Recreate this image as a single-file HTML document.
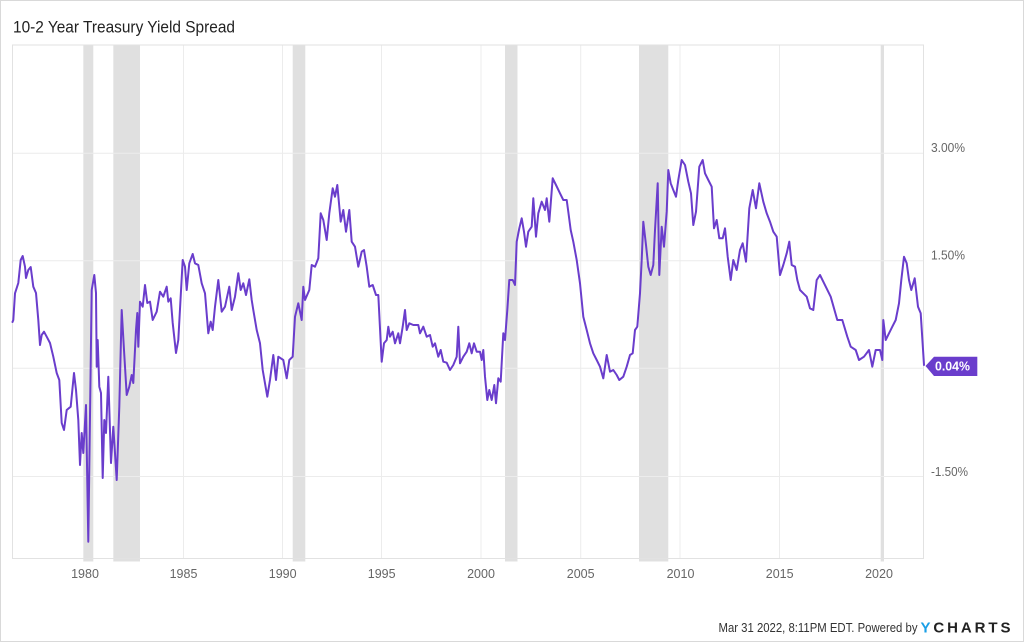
<!DOCTYPE html>
<html>
<head>
<meta charset="utf-8">
<style>
  html,body{margin:0;padding:0;background:#fff;}
  svg{display:block;}
  text{font-family:"Liberation Sans",Arial,sans-serif;}
</style>
</head>
<body>
<svg width="1024" height="642" viewBox="0 0 1024 642" xmlns="http://www.w3.org/2000/svg">
  <rect x="0.5" y="0.5" width="1023" height="641" fill="#fff" stroke="#d9d9d9" stroke-width="1"/>
  <text x="13" y="32.5" font-size="17" fill="#222" textLength="222" lengthAdjust="spacingAndGlyphs">10-2 Year Treasury Yield Spread</text>

  <!-- recession bands -->
  <g fill="#e0e0e0">
    <rect x="83.3" y="45" width="10" height="516.5"/>
    <rect x="113.3" y="45" width="26.7" height="516.5"/>
    <rect x="292.7" y="45" width="12.6" height="516.5"/>
    <rect x="505" y="45" width="12.5" height="516.5"/>
    <rect x="639" y="45" width="29.3" height="516.5"/>
    <rect x="880.7" y="45" width="3.3" height="516.5"/>
  </g>

  <!-- gridlines -->
  <g stroke="#ececec" stroke-width="1">
    <line x1="12.5" y1="153.3" x2="923.5" y2="153.3"/>
    <line x1="12.5" y1="260.7" x2="923.5" y2="260.7"/>
    <line x1="12.5" y1="368.2" x2="923.5" y2="368.2"/>
    <line x1="12.5" y1="476.5" x2="923.5" y2="476.5"/>
    <line x1="183.5" y1="45" x2="183.5" y2="558.5"/>
    <line x1="282.5" y1="45" x2="282.5" y2="558.5"/>
    <line x1="381.5" y1="45" x2="381.5" y2="558.5"/>
    <line x1="481" y1="45" x2="481" y2="558.5"/>
    <line x1="580.7" y1="45" x2="580.7" y2="558.5"/>
    <line x1="680" y1="45" x2="680" y2="558.5"/>
    <line x1="779.5" y1="45" x2="779.5" y2="558.5"/>
  </g>
  <!-- plot border -->
  <rect x="12.5" y="45" width="911" height="513.5" fill="none" stroke="#e2e2e2" stroke-width="1"/>

  <!-- series -->
  <polyline fill="none" stroke="#6a3dcc" stroke-width="2" stroke-linejoin="round" stroke-linecap="round" points="
12.5,322 13.3,320 15,293.3 18.3,283 20.7,260 22.7,256 25,266.7 26,278 28.3,270 30.7,267 33.3,286.7 36,293 38.3,320 40,345 41.7,335 44,331.7 46.7,336.7 50,343 53.3,356.7 56.7,373 59.3,380 61.7,423 64,430 66.7,410 70.7,406.7 74,373 76,390 78.3,420 80,465 81.7,433 83.3,453 86,405 88.3,541.7 91.7,290 94.3,275 96,293 96.7,366.7 97.7,340 99.3,386.7 101,393 102.7,478 104.3,420 106,433 108.3,376.7 111,463 113.3,426.7 116.7,480 119.3,406.7 121.7,310 124,350 126.7,395 129.3,386.7 131.7,375 133.3,383 136,330 137.3,313 138.3,346.7 140,301.7 142.7,306.7 145,285 147.3,303 150,301.7 152.7,320 156.7,311.7 160,291.7 163.3,296.7 166.7,286.7 168.3,301.7 170.7,298.3 172.7,323 176,353 178.3,340 182.7,260 185,266.7 186.7,290 189.3,263.3 192.7,254 195,263.3 198.3,265 201.7,283.3 205,293.3 208.3,333.3 210.7,321.7 212.7,330 215,306.7 218.3,280 221.7,311.7 225,306.7 229.3,286.7 231.7,310 235,296.7 238.3,273.3 240.7,290 243.3,283.3 246,295 249.3,279.3
251.7,300 253.3,310 256.7,330 260,343.3 262.7,370 265,383.3 267.3,396.7 270,380 273.3,355 276,380 278.3,356.7 283.3,360 286.7,378.3 289.3,360 292.7,356.7 295,316.7 298.3,303.3 301.7,320 303.3,286.7 305,300 309.3,290 311.7,265 315,266.7 318.3,258.3 320.7,213.3 323.3,220 326.7,240 329.3,213.3 332.7,188.3 335,196.7 337.3,185 340.7,221.7 343.3,210 346,231.7 349.3,210 351.7,241.7 355,246.7 358.3,266.7 361.7,251.7 364,250 366.7,266.7 369.3,286.7 372.7,285 376,295 378.3,295 381.7,361.7 384,343.3 386.7,340 388.3,326.7 390,336.7 392.7,331.7 395,343.3 398.3,333.3 400,343.3 402.7,326.7 405,310 406.7,330 409.3,323.3 413.3,325 418.3,325 420,333.3 423.3,326.7 426.7,336.7 430,335 432.7,346.7 435,343.3 438.3,356.7 440.7,350 443.3,361.7 446.7,362.7 450,370 453.3,365 456.7,356.7 458.3,326.7 460,363.3 463.3,356.7 466.7,351.7 469.3,343.3 471.7,353.3 474,343.3 476.7,351.7 480,351.7 481.7,360 483.3,350 485,376.7 487.3,400 489.3,390 491.7,400 494.3,385 496,403.3 498.3,378.3 500.7,381.7 503.3,333.3 505,340 507.3,310 509.3,280 512.7,280 515,285 516.7,241.7 519.3,228.3 521.7,218.3 524,231.7 526,246.7 528.3,231.7 531.7,226.7 533.3,198.3 536,236.7 538.3,213.3 541.7,201.7 545,210 546.7,198.3 549.3,221.7 552.7,178.3 556,185
560,193.3 563.3,200 566.7,200 568.3,211.7 570.7,230 573.3,241.7 576.7,260 580,283.3 583.3,316.7 586.7,330 590,343.3 593.3,353.3 596.7,360 600,366.7 603.3,378.3 606.7,355 610,371.7 613.3,370 616.7,375 619.3,380 623.3,376.7 626.7,366.7 630,355 632.7,353.3 635,330 637.3,326.7 640,293.3 641.7,260 643.3,221.7 646,245 648.3,266.7 650.7,275 653.3,265 655,230 657.7,183.3 659.3,275 661.7,226.7 664,246.7 666.7,211.7 668.3,170 670.7,183.3 673.3,190 676,196.7 678.3,180 681.7,160 685,165 688.3,181.7 691,193.3 693.3,225 696,211.7 699.3,166.7 702.7,160 705,173.3 708.3,180 711.7,186.7 714,228.3 716.7,220 719.3,238.3 722.7,238.3 725,228.3 727.7,256.7 730.7,280 733.3,260 736.7,270 740,250 742.7,243.3 746,261.7 749.3,208.3 752.7,190 756,208.3 759.3,183.3 763.3,201.7 766.7,213.3 770,221.7 773.3,231.7 776.7,236.7 780,275 783.3,265 786.7,253.3 789.3,241.7 791.7,265 795,266.7 797.3,280 800,290 803.3,293.3 806.7,296.7 810,308.3 813.3,310 816.7,280 820,275 823.3,281.7
830.7,296.7 837.3,320 842.3,320 847.3,336.7 850.7,346.7 855.7,350 859,360 864,356.7 869,350 872.3,366.7 875.7,350 880,350 882.3,360 883.3,320 885.7,340 889,333.3 892.3,326.7 895.7,320 899,303.3 901.3,280 904,256.7 906.7,263.3 909,280 911.3,290 914.7,278.3 918,306.7 920.7,313.3 924,365"/>

  <!-- y-axis labels -->
  <g font-size="12.5" fill="#666">
    <text x="931" y="152" textLength="34" lengthAdjust="spacingAndGlyphs">3.00%</text>
    <text x="931" y="259.5" textLength="34" lengthAdjust="spacingAndGlyphs">1.50%</text>
    <text x="931" y="476" textLength="37" lengthAdjust="spacingAndGlyphs">-1.50%</text>
  </g>

  <!-- last value tag -->
  <polygon points="925.5,366 934,356.7 977.3,356.7 977.3,376 934,376" fill="#6a3dcc"/>
  <text x="935" y="370.5" font-size="12.5" font-weight="bold" fill="#fff" textLength="35" lengthAdjust="spacingAndGlyphs">0.04%</text>

  <!-- x-axis labels -->
  <g font-size="12.5" fill="#666" text-anchor="middle">
    <text x="85" y="578">1980</text>
    <text x="183.5" y="578">1985</text>
    <text x="282.7" y="578">1990</text>
    <text x="381.7" y="578">1995</text>
    <text x="481" y="578">2000</text>
    <text x="580.7" y="578">2005</text>
    <text x="680.5" y="578">2010</text>
    <text x="779.7" y="578">2015</text>
    <text x="879" y="578">2020</text>
  </g>

  <!-- footer -->
  <text x="718.5" y="632" font-size="13" fill="#333" textLength="199" lengthAdjust="spacingAndGlyphs">Mar 31 2022, 8:11PM EDT. Powered by</text>
  <text x="920.5" y="632.5" font-size="15" font-weight="bold" fill="#222" textLength="90" lengthAdjust="spacing"><tspan fill="#1a9fe6">Y</tspan>CHARTS</text>
</svg>
</body>
</html>
